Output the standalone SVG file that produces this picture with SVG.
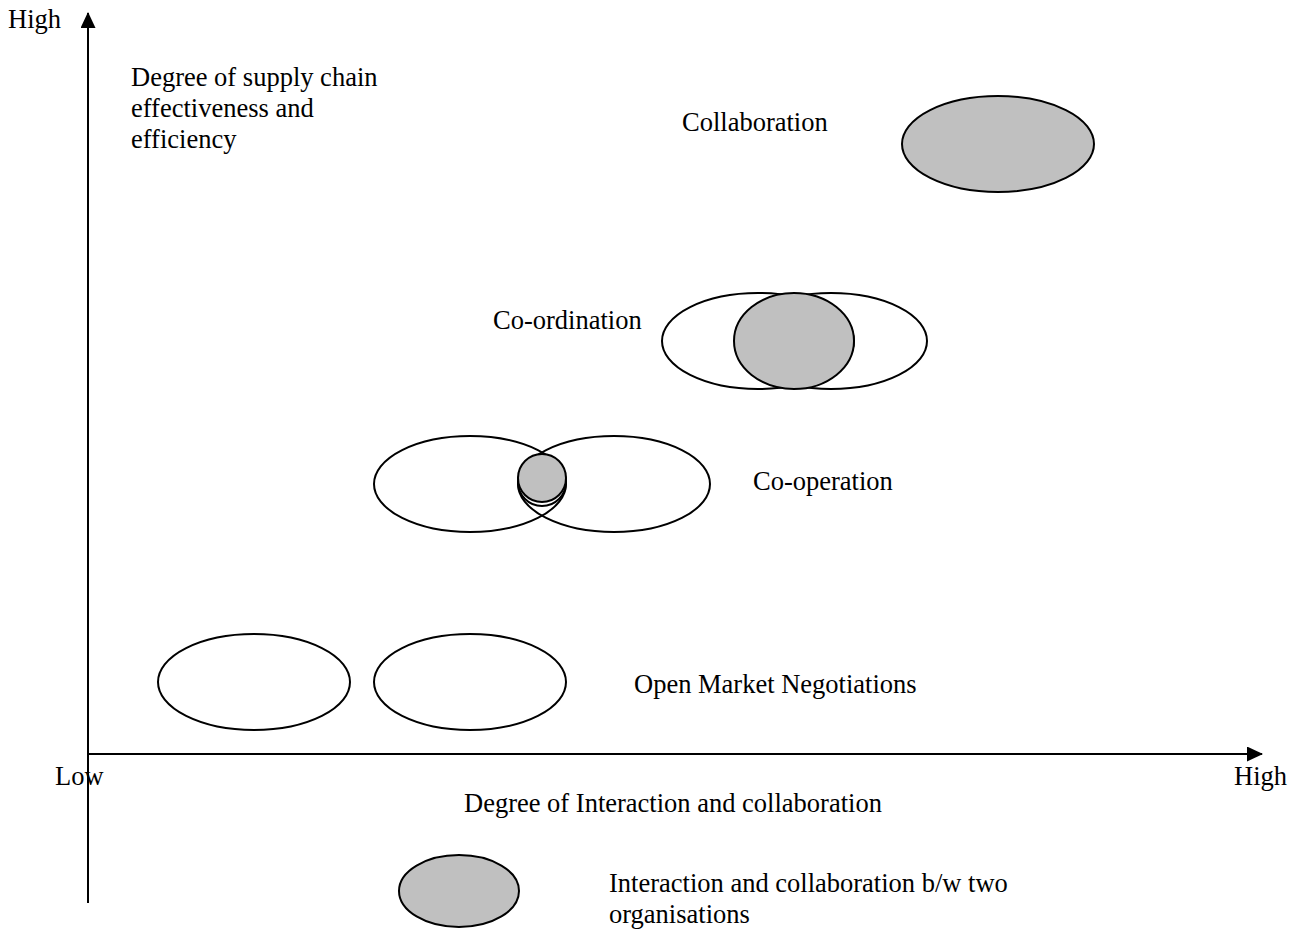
<svg xmlns="http://www.w3.org/2000/svg" width="1292" height="929" viewBox="0 0 1292 929">
<style>
text{font-family:"Liberation Serif","Times New Roman",serif;font-size:26.5px;fill:#000}
.o{fill:#fff;stroke:#000;stroke-width:2}
.n{fill:none;stroke:#000;stroke-width:2}
.g{fill:#c0c0c0;stroke:#000;stroke-width:2}
.ax{stroke:#000;stroke-width:2;fill:none}
</style>
<defs>
<marker id="ah" markerWidth="16" markerHeight="15" refX="15" refY="7.5" orient="auto" markerUnits="userSpaceOnUse">
<path d="M0,0 L16,7.5 L0,15 Z" fill="#000"/>
</marker>
</defs>
<rect width="1292" height="929" fill="#fff"/>
<g id="connectors">
<line class="ax" x1="88" y1="903" x2="88" y2="13" marker-end="url(#ah)"/>
<line class="ax" x1="88" y1="754" x2="1262" y2="754" marker-end="url(#ah)"/>
</g>
<g id="axis-labels">
<text x="8" y="28">High</text>
<text x="131" y="86">Degree of supply chain</text>
<text x="131" y="117">effectiveness and</text>
<text x="131" y="148">efficiency</text>
<text x="55" y="785">Low</text>
<text x="1234" y="785">High</text>
<text x="464" y="812">Degree of Interaction and collaboration</text>
</g>
<g id="collaboration">
<ellipse class="g" cx="998" cy="144" rx="96" ry="48"/>
<text x="682" y="131">Collaboration</text>
</g>
<g id="coordination">
<ellipse class="o" cx="758" cy="341" rx="96" ry="48"/>
<ellipse class="n" cx="831" cy="341" rx="96" ry="48"/>
<ellipse class="g" cx="794" cy="341" rx="60" ry="48"/>
<text x="493" y="329">Co-ordination</text>
</g>
<g id="cooperation">
<ellipse class="o" cx="470" cy="484" rx="96" ry="48"/>
<ellipse class="n" cx="614" cy="484" rx="96" ry="48"/>
<circle class="n" cx="542" cy="482" r="24"/>
<circle class="g" cx="542" cy="478" r="24"/>
<text x="753" y="490">Co-operation</text>
</g>
<g id="open-market">
<ellipse class="o" cx="254" cy="682" rx="96" ry="48"/>
<ellipse class="o" cx="470" cy="682" rx="96" ry="48"/>
<text x="634" y="693">Open Market Negotiations</text>
</g>
<g id="legend">
<ellipse class="g" cx="459" cy="891" rx="60" ry="36"/>
<text x="609" y="892">Interaction and collaboration b/w two</text>
<text x="609" y="923">organisations</text>
</g>
</svg>
